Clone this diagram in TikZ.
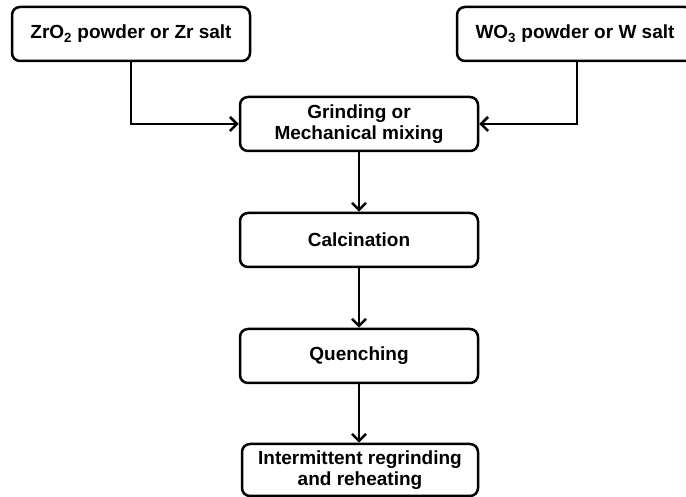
\documentclass[tikz,border=0pt]{standalone}
\usepackage{fontspec}
\setmainfont{Liberation Sans}
\usetikzlibrary{arrows.meta}
\begin{document}
\begin{tikzpicture}[x=1pt,y=1pt,
  box/.style={draw,line width=2.5pt,rounded corners=8pt,minimum width=238pt,minimum height=54pt,
    inner sep=0pt,align=center,font=\bfseries\fontsize{19}{21}\selectfont},
  conn/.style={line width=2.5pt,-{Straight Barb[length=7pt,width=14pt,line width=2.5pt]}}]
\useasboundingbox (0,0) rectangle (686,497);
\clip (0,0) rectangle (686,497);
\node[box] (zr) at (131,463) {ZrO\textsubscript{2} powder or Zr salt};
\node[box,minimum width=236pt] (w) at (575,463) {WO\textsubscript{3} powder or W salt};
\node[box] (grind) at (359,373) {Grinding or\\Mechanical mixing};
\node[box] (calc) at (359,257) {Calcination};
\node[box] (quench) at (359,141) {Quenching};
\node[box,minimum width=236pt,minimum height=52pt] (inter) at (360,27) {Intermittent regrinding\\and reheating};
\draw[conn] (zr.south) |- (grind.west);
\draw[conn] ([xshift=2pt]w.south) |- (grind.east);
\draw[conn] (grind) -- (calc);
\draw[conn] (calc) -- (quench);
\draw[conn] (quench.south) -- (quench.south |- inter.north);
\end{tikzpicture}
\end{document}
